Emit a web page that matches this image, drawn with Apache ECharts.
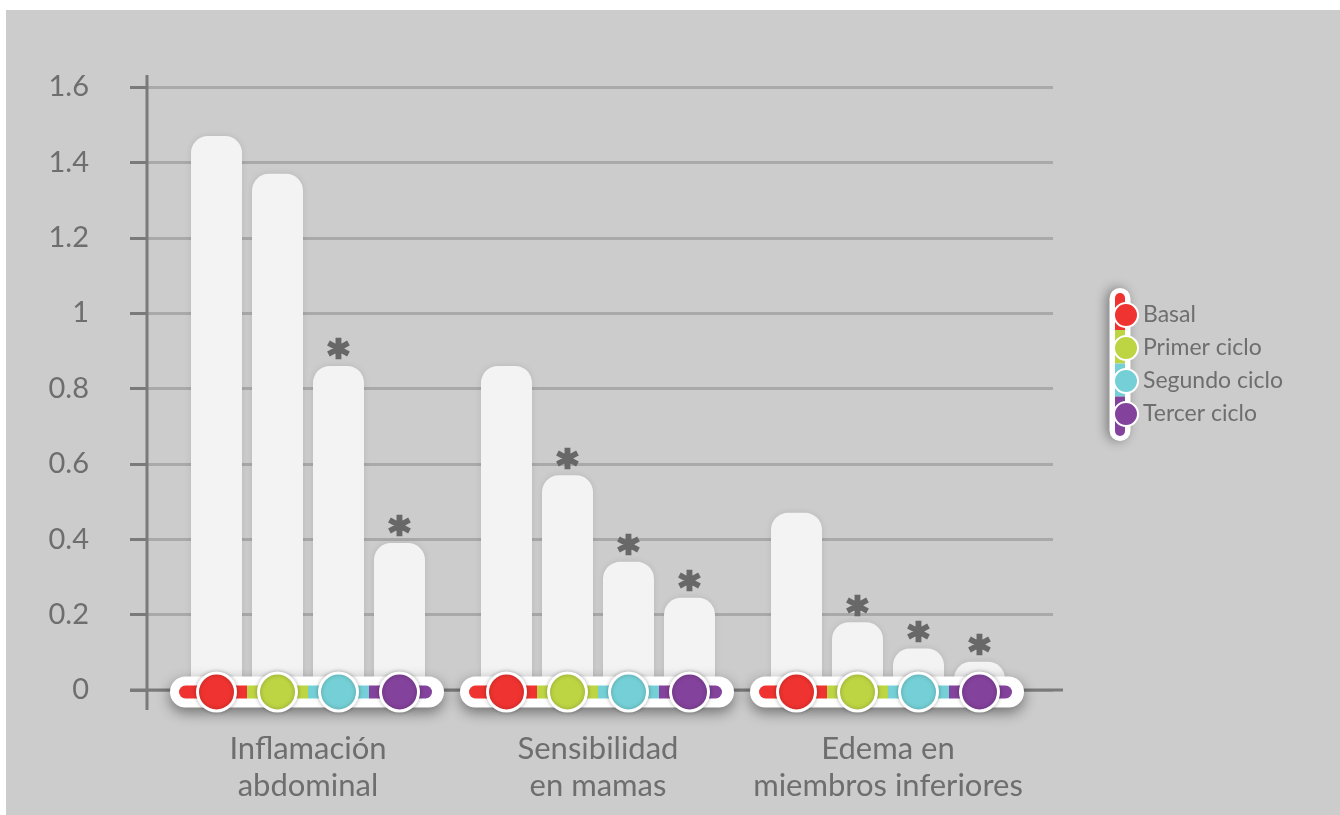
<!DOCTYPE html>
<html>
<head>
<meta charset="utf-8">
<style>
  html, body { margin: 0; padding: 0; background: #ffffff; }
  #frame { position: absolute; left: 6px; top: 10px; width: 1334px; height: 805px; background: #cccccc; }
  #chart { position: absolute; left: 0; top: 0; width: 1340px; height: 815px; }
</style>
<script src="https://cdn.jsdelivr.net/npm/echarts@6/dist/echarts.min.js"></script>
</head>
<body>
<div id="frame"></div>
<div id="chart"></div>
<script>
// Síntomas por ciclo
const categories = ['Inflamación\nabdominal', 'Sensibilidad\nen mamas', 'Edema en\nmiembros inferiores'];
const seriesNames = ['Basal', 'Primer ciclo', 'Segundo ciclo', 'Tercer ciclo'];
const basal   = [1.47, 0.86, 0.47];
const primer  = [1.37, 0.57, 0.18];
const segundo = [0.86, 0.34, 0.11];
const tercer  = [0.39, 0.245, 0.075];
// significance markers (*) per series, per category
const sigBasal   = [false, false, false];
const sigPrimer  = [false, true, true];
const sigSegundo = [true, true, true];
const sigTercer  = [true, true, true];
const yTicks = [0, 0.2, 0.4, 0.6, 0.8, 1, 1.2, 1.4, 1.6];

const colors = ['#ef3330', '#bdd443', '#74d0d6', '#83429b'];
const values = [basal, primer, segundo, tercer];
const sigs = [sigBasal, sigPrimer, sigSegundo, sigTercer];

const FONT = 'Lato, "Noto Sans", sans-serif';
const TXT = '#6e6e6e';
const BAR_W = 51;
const BAR_GAP = 10;

const chart = echarts.init(document.getElementById('chart'), null, { renderer: 'canvas' });

const barSeries = seriesNames.map((name, s) => ({
  name: name,
  type: 'bar',
  xAxisIndex: 1,
  yAxisIndex: 1,
  barWidth: BAR_W,
  barGap: (BAR_GAP / BAR_W * 100).toFixed(1) + '%',
  z: 2,
  itemStyle: {
    color: '#f3f3f3',
    borderRadius: [17, 17, 0, 0],
    shadowBlur: 6,
    shadowColor: 'rgba(0,0,0,0.10)'
  },
  label: {
    show: false,
    position: 'top',
    distance: -13,
    formatter: '*',
    fontFamily: '"DejaVu Sans"',
    fontWeight: 'bold',
    fontSize: 40,
    color: '#686868',
    textBorderColor: '#686868',
    textBorderWidth: 2.5
  },
  data: values[s].map((v, i) => sigs[s][i] ? { value: v, label: { show: true } } : v)
}));

// Base strip with colored circles under each group of bars
const baseSeries = {
  type: 'custom',
  xAxisIndex: 1,
  yAxisIndex: 1,
  z: 10,
  silent: true,
  data: categories.map((c, i) => [i, 0]),
  renderItem: function (params, api) {
    const p = api.coord([api.value(0), 0]);
    const cx = p[0];
    const cy = p[1] + 2;
    const step = BAR_W + BAR_GAP;
    const offs = [-1.5, -0.5, 0.5, 1.5].map(k => k * step);
    const children = [];
    // white pill
    children.push({
      type: 'rect',
      shape: { x: cx - 138, y: cy - 15.5, width: 274, height: 31, r: 15.5 },
      style: { fill: '#ffffff', shadowBlur: 14, shadowOffsetY: 5, shadowColor: 'rgba(0,0,0,0.45)' }
    });
    // colored segments
    const left = cx - 129, right = cx + 124;
    const bounds = [left, cx + (offs[0] + offs[1]) / 2, cx + (offs[1] + offs[2]) / 2, cx + (offs[2] + offs[3]) / 2, right];
    for (let k = 0; k < 4; k++) {
      const r = k === 0 ? [6.5, 0, 0, 6.5] : (k === 3 ? [0, 6.5, 6.5, 0] : 0);
      children.push({
        type: 'rect',
        shape: { x: bounds[k], y: cy - 6.5, width: bounds[k + 1] - bounds[k], height: 13, r: r },
        style: { fill: colors[k] }
      });
    }
    // circles
    for (let k = 0; k < 4; k++) {
      children.push({
        type: 'circle',
        shape: { cx: cx + offs[k], cy: cy, r: 19 },
        style: { fill: colors[k], stroke: '#ffffff', lineWidth: 3, shadowBlur: 4, shadowColor: 'rgba(0,0,0,0.25)' }
      });
    }
    return { type: 'group', children: children };
  }
};

const option = {
  animation: false,
  backgroundColor: 'transparent',
  textStyle: { fontFamily: FONT },
  grid: [
    { left: 147, top: 87, width: 906, bottom: 125 },
    { left: 163, top: 87, width: 870, bottom: 125 }
  ],
  xAxis: [
    { type: 'value', gridIndex: 0, min: 0, max: 1, show: false },
    {
      type: 'category', gridIndex: 1, data: categories,
      axisLine: { show: false }, axisTick: { show: false },
      axisLabel: {
        interval: 0, margin: 40, color: TXT, fontFamily: FONT, fontSize: 31, lineHeight: 37, align: 'center'
      }
    }
  ],
  yAxis: [
    {
      type: 'value', gridIndex: 0, min: 0, max: 1.6, interval: 0.2,
      axisLine: { show: false },
      axisTick: { show: true, length: 17, lineStyle: { color: '#7a7a7a', width: 3 } },
      splitLine: { show: true, lineStyle: { color: '#a9a9a9', width: 3 } },
      axisLabel: {
        margin: 58, color: TXT, fontFamily: FONT, fontSize: 29, padding: [0, 0, 14, 0],
        formatter: v => {
          const t = yTicks.find(x => Math.abs(x - v) < 1e-9);
          return t === undefined ? '' : String(t);
        }
      }
    },
    { type: 'value', gridIndex: 1, min: 0, max: 1.6, show: false }
  ],
  legend: {
    orient: 'vertical',
    left: 1108,
    top: 297,
    itemWidth: 24,
    itemHeight: 24,
    itemGap: 7,
    icon: 'circle',
    selectedMode: false,
    z: 6,
    itemStyle: { borderColor: '#ffffff', borderWidth: 2 },
    textStyle: { color: TXT, fontFamily: FONT, fontSize: 23, padding: [0, 0, 0, 0], lineHeight: 24, height: 24 },
    data: seriesNames.map((n, k) => ({ name: n, itemStyle: { color: colors[k], borderColor: '#ffffff', borderWidth: 2 } }))
  },
  series: barSeries.concat([baseSeries])
};

chart.setOption(option);

// Axis lines and legend strip drawn over the grid
const origin = chart.convertToPixel({ xAxisIndex: 0, yAxisIndex: 0 }, [0, 0]);
const topPt = chart.convertToPixel({ xAxisIndex: 0, yAxisIndex: 0 }, [0, 1.6]);
const rightPt = chart.convertToPixel({ xAxisIndex: 0, yAxisIndex: 0 }, [1, 0]);

const legendTop = 288, legendBottom = 441, legendX = 1120;
const legendRows = [313, 347, 380, 413];
const legendBounds = [legendTop + 5, (legendRows[0] + legendRows[1]) / 2, (legendRows[1] + legendRows[2]) / 2, (legendRows[2] + legendRows[3]) / 2, legendBottom - 5];
const legendGraphics = [{
  type: 'rect', z: 1,
  shape: { x: legendX - 10.5, y: legendTop, width: 21, height: legendBottom - legendTop, r: 10.5 },
  style: { fill: '#ffffff', shadowBlur: 12, shadowOffsetX: -3, shadowColor: 'rgba(0,0,0,0.4)' }
}];
for (let k = 0; k < 4; k++) {
  legendGraphics.push({
    type: 'rect', z: 2,
    shape: {
      x: legendX - 5, y: legendBounds[k], width: 10, height: legendBounds[k + 1] - legendBounds[k],
      r: k === 0 ? [5, 5, 0, 0] : (k === 3 ? [0, 0, 5, 5] : 0)
    },
    style: { fill: colors[k] }
  });
}

chart.setOption({
  graphic: [
    {
      type: 'line', z: 1, silent: true,
      shape: { x1: origin[0], y1: topPt[1] - 12, x2: origin[0], y2: origin[1] + 20 },
      style: { stroke: '#7a7a7a', lineWidth: 3 }
    },
    {
      type: 'line', z: 1, silent: true,
      shape: { x1: origin[0] - 17, y1: origin[1], x2: rightPt[0] + 10, y2: origin[1] },
      style: { stroke: '#7a7a7a', lineWidth: 3 }
    }
  ].concat(legendGraphics)
});
</script>
</body>
</html>
